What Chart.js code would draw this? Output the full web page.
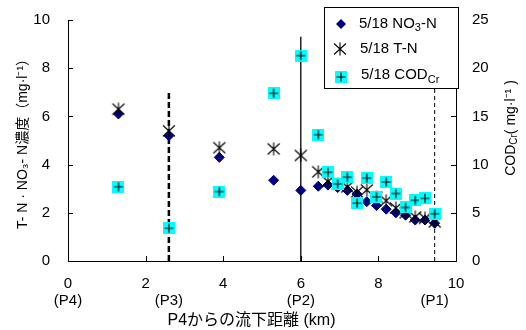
<!DOCTYPE html>
<html><head><meta charset="utf-8">
<script src="https://cdn.jsdelivr.net/npm/chart.js@4/dist/chart.umd.min.js"></script>
<style>html,body{margin:0;padding:0;background:#fff;}#wrap{width:526px;height:330px;}</style>
</head><body><div id="wrap"><canvas id="c" width="526" height="330"></canvas></div>
<script>
// ---- data ----
const distanceKm = [1.3, 2.6, 3.9, 5.3, 6.0, 6.45, 6.7, 6.95, 7.2, 7.45, 7.7, 7.95, 8.2, 8.45, 8.7, 8.95, 9.2, 9.45];
const no3N   = [6.1, 5.2, 4.3, 3.35, 2.93, 3.1, 3.15, 3.05, 2.93, 2.78, 2.46, 2.3, 2.15, 2.0, 1.9, 1.7, 1.7, 1.57];
const totalN = [6.3, 5.4, 4.7, 4.65, 4.38, 3.7, 3.3, 3.2, 3.07, 2.86, 2.95, 2.65, 2.5, 2.2, 2.0, 1.83, 1.77, 1.62];
const codCr  = [7.7, 3.4, 7.2, 17.4, 21.3, 13.1, 9.2, 8.0, 8.7, 6.0, 8.6, 6.65, 8.2, 7.0, 5.55, 6.3, 6.5, 4.9];
const seriesNames = ['5/18 NO', '5/18 T-N', '5/18 COD'];
const stationLabels = ['(P4)', '(P3)', '(P2)', '(P1)'];
const stationKm = [0, 2.6, 6.0, 9.45];
const refLineKm = [2.6, 6.0, 9.45];
const refLineTop = [7.07, 9.3, 9.6];
const xTitle = 'P4からの流下距離 (km)';
const yLeftTitle = 'T- N · NO₃- N濃度（mg·l⁻¹）';
const yRightTitle = ['COD', 'Cr', '( mg·l⁻¹ )'];

const FONT = '"Liberation Sans", Arial, "Noto Sans CJK JP", sans-serif';
Chart.defaults.font.family = FONT;
Chart.defaults.color = '#000';

// ---- marker images ----
function starMarker() {
  const c = document.createElement('canvas'); c.width = 14; c.height = 14;
  const g = c.getContext('2d'); g.strokeStyle = '#000'; g.lineWidth = 1.1;
  g.beginPath();
  g.moveTo(7, 0.5); g.lineTo(7, 13.5);
  g.moveTo(1, 1.5); g.lineTo(13, 12.5);
  g.moveTo(1, 12.5); g.lineTo(13, 1.5);
  g.stroke(); return c;
}
function codMarker() {
  const c = document.createElement('canvas'); c.width = 12; c.height = 12;
  const g = c.getContext('2d'); g.fillStyle = '#00FFFF'; g.fillRect(0, 0, 12, 12);
  g.strokeStyle = '#000'; g.lineWidth = 1.2; g.beginPath();
  g.moveTo(6, 1.5); g.lineTo(6, 10.5); g.moveTo(1.5, 6); g.lineTo(10.5, 6); g.stroke();
  return c;
}
const STAR = starMarker(), COD = codMarker();

const pts = (xs, ys) => xs.map((x, i) => ({x, y: ys[i]}));
const vline = (i) => [{x: refLineKm[i], y: 0}, {x: refLineKm[i], y: refLineTop[i]}];

const overlay = {
  id: 'overlay',
  afterDraw(chart) {
    const ctx = chart.ctx, xs = chart.scales.x, yl = chart.scales.y, yr = chart.scales.y2;
    const a = chart.chartArea;
    ctx.save();
    ctx.strokeStyle = '#000'; ctx.lineWidth = 1;
    // inward tick marks
    xs.ticks.forEach(t => { const p = Math.round(xs.getPixelForValue(t.value)) + 0.5;
      ctx.beginPath(); ctx.moveTo(p, a.bottom); ctx.lineTo(p, a.bottom - 5); ctx.stroke(); });
    yl.ticks.forEach(t => { const p = Math.round(yl.getPixelForValue(t.value)) + 0.5;
      ctx.beginPath(); ctx.moveTo(a.left, p); ctx.lineTo(a.left + 5, p); ctx.stroke(); });
    yr.ticks.forEach(t => { const p = Math.round(yr.getPixelForValue(t.value)) + 0.5;
      ctx.beginPath(); ctx.moveTo(a.right, p); ctx.lineTo(a.right - 5, p); ctx.stroke(); });
    // station labels
    ctx.fillStyle = '#000'; ctx.font = '15px ' + FONT; ctx.textAlign = 'center'; ctx.textBaseline = 'middle';
    stationLabels.forEach((s, i) => ctx.fillText(s, xs.getPixelForValue(stationKm[i]), 301));
    // x axis title
    ctx.font = '16px ' + FONT;
    ctx.fillText(xTitle, 251.5, 321);
    // right axis title (bottom-to-top)
    ctx.save();
    ctx.translate(511, 128); ctx.rotate(-Math.PI / 2);
    ctx.font = '14px ' + FONT;
    const w1 = ctx.measureText(yRightTitle[0]).width;
    ctx.font = '10px ' + FONT; const w2 = ctx.measureText(yRightTitle[1]).width;
    ctx.font = '14px ' + FONT; const w3 = ctx.measureText(yRightTitle[2]).width;
    let sx = -(w1 + w2 + w3) / 2;
    ctx.textAlign = 'left';
    ctx.fillText(yRightTitle[0], sx, 0); sx += w1;
    ctx.font = '10px ' + FONT; ctx.fillText(yRightTitle[1], sx, 3); sx += w2;
    ctx.font = '14px ' + FONT; ctx.fillText(yRightTitle[2], sx, 0);
    ctx.restore();
    // legend
    const L = 324.5, T = 7.5, W = 134, H = 81;
    ctx.fillStyle = '#fff'; ctx.fillRect(L, T, W, H);
    ctx.strokeStyle = '#000'; ctx.strokeRect(L, T, W, H);
    const rows = [24, 49, 77];
    ctx.fillStyle = '#000080';
    ctx.beginPath(); ctx.moveTo(341, rows[0] - 5); ctx.lineTo(346, rows[0]); ctx.lineTo(341, rows[0] + 5); ctx.lineTo(336, rows[0]); ctx.closePath(); ctx.fill();
    ctx.drawImage(STAR, 340 - 7, rows[1] - 7);
    ctx.drawImage(COD, 341 - 6, rows[2] - 6);
    ctx.fillStyle = '#000'; ctx.textAlign = 'left'; ctx.textBaseline = 'middle';
    ctx.font = '15px ' + FONT;
    let tx = 359;
    ctx.fillText(seriesNames[0], tx, rows[0]); tx += ctx.measureText(seriesNames[0]).width;
    ctx.font = '11px ' + FONT; ctx.fillText('3', tx, rows[0] + 4); tx += ctx.measureText('3').width;
    ctx.font = '15px ' + FONT; ctx.fillText('-N', tx, rows[0]);
    ctx.fillText(seriesNames[1], 360, rows[1]);
    tx = 361; ctx.fillText(seriesNames[2], tx, rows[2] - 2); tx += ctx.measureText(seriesNames[2]).width;
    ctx.font = '11px ' + FONT; ctx.fillText('Cr', tx, rows[2] + 3);
    ctx.restore();
  }
};

function fixV(width) {
  return function (s) { s.width = width; s.paddingTop = 0; s.paddingBottom = 0; };
}

new Chart(document.getElementById('c'), {
  type: 'scatter',
  data: {
    datasets: [
      {label: 'COD', data: pts(distanceKm, codCr), yAxisID: 'y2', pointStyle: COD, order: 0},
      {label: 'T-N', data: pts(distanceKm, totalN), yAxisID: 'y', pointStyle: STAR, order: 1},
      {label: 'NO3-N', data: pts(distanceKm, no3N), yAxisID: 'y', pointStyle: 'rectRot', pointRadius: 5,
       backgroundColor: '#000080', borderColor: '#000080', borderWidth: 1, order: 2},
      {type: 'line', data: vline(0), yAxisID: 'y', borderColor: '#000', borderWidth: 2.5, borderDash: [6, 3], pointRadius: 0, order: 5},
      {type: 'line', data: vline(1), yAxisID: 'y', borderColor: '#000', borderWidth: 1.3, pointRadius: 0, order: 5},
      {type: 'line', data: vline(2), yAxisID: 'y', borderColor: '#000', borderWidth: 1, borderDash: [4, 3], pointRadius: 0, order: 5}
    ]
  },
  options: {
    responsive: false, animation: false, events: [],
    layout: {padding: {top: 20, left: 0, right: 0, bottom: 0}},
    plugins: {legend: {display: false}, tooltip: {enabled: false}},
    scales: {
      x: {type: 'linear', min: 0, max: 10,
        ticks: {stepSize: 2, padding: 14, font: {size: 15}, color: '#000', maxRotation: 0},
        grid: {drawOnChartArea: false, drawTicks: false}, border: {color: '#000', width: 1},
        afterFit(s) { s.height = 69; }},
      y: {type: 'linear', position: 'left', min: 0, max: 10,
        ticks: {stepSize: 2, padding: 18, font: {size: 15}, color: '#000'},
        grid: {drawOnChartArea: false, drawTicks: false}, border: {color: '#000', width: 1},
        title: {display: true, text: yLeftTitle, font: {size: 14}, color: '#000', padding: {top: 15, bottom: 0}},
        afterFit: fixV(68)},
      y2: {type: 'linear', position: 'right', min: 0, max: 25,
        ticks: {stepSize: 5, padding: 16, font: {size: 15}, color: '#000'},
        grid: {drawOnChartArea: false, drawTicks: false}, border: {color: '#000', width: 1},
        afterFit: fixV(70)}
    }
  },
  plugins: [overlay]
});
</script></body></html>
